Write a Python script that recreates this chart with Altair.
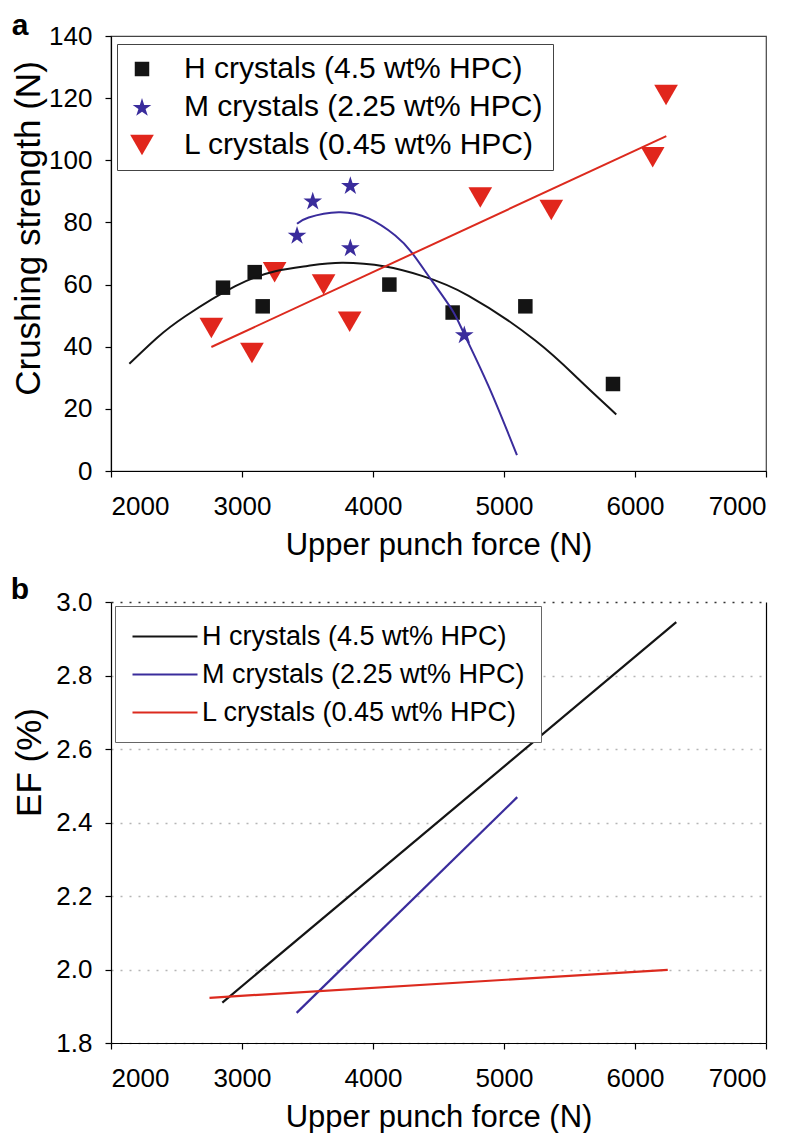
import altair as alt
import pandas as pd

series = ["H crystals (4.5 wt% HPC)", "M crystals (2.25 wt% HPC)", "L crystals (0.45 wt% HPC)"]
point_colors = ["#141414", "#3a2c9c", "#e1261c"]
line_colors = ["#141414", "#3a2c9c", "#dc2a1e"]
star_path = ("M0,-0.905L0.2245,-0.214L0.9511,-0.214L0.3633,0.213L0.5878,0.904L0,0.477"
             "L-0.5878,0.904L-0.3633,0.213L-0.9511,-0.214L-0.2245,-0.214Z")
shapes = ["square", star_path, "triangle-down"]
sizes = [210, 560, 240]

# ---- panel a: measured points ----
force_H = [2855, 3097, 3158, 4125, 4608, 5163, 5832]
cs_H = [59, 64, 53, 60, 51, 53, 28]
force_M = [3420, 3540, 3827, 3827, 4697]
cs_M = [76, 87, 92, 72, 44]
force_L = [2766, 3076, 3249, 3623, 3822, 4819, 5361, 6135, 6237]
cs_L = [46, 38, 64, 60, 48, 88, 84, 101, 121]

# ---- panel a: fitted curves ----
fitH_x = [2140, 2350, 2567, 2949, 3254, 3500, 3763, 4094, 4374, 4730, 5239, 5570, 5857]
fitH_y = [34.5, 42.8, 49.8, 59.5, 64.3, 66.0, 67.0, 65.8, 62.8, 56.4, 42.0, 29.5, 18.2]
fitM_x = [3420, 3509, 3738, 3967, 4170, 4298, 4450, 4603, 4697, 4882, 5099]
fitM_y = [79.6, 81.6, 83.3, 81.3, 75.8, 70.2, 61.2, 51.9, 44.0, 27.3, 5.1]
fitL_x = [2766, 6239]
fitL_y = [39.9, 107.8]

# ---- panel b: EF lines ----
efH_x = [2850, 6315]
efH_y = [1.910, 2.945]
efM_x = [3417, 5101]
efM_y = [1.882, 2.469]
efL_x = [2752, 6250]
efL_y = [1.923, 1.999]

x_ticks = [2000, 3000, 4000, 5000, 6000, 7000]
ya_ticks = [0, 20, 40, 60, 80, 100, 120, 140]
yb_ticks = [1.8, 2.0, 2.2, 2.4, 2.6, 2.8, 3.0]


def frame(xs, ys, name, xcol, ycol):
    return pd.DataFrame({xcol: xs, ycol: ys, "series": [name] * len(xs)})


pts_a = pd.concat([
    frame(force_H, cs_H, series[0], "force", "cs"),
    frame(force_M, cs_M, series[1], "force", "cs"),
    frame(force_L, cs_L, series[2], "force", "cs"),
])
fit_frames = [
    frame(fitH_x, fitH_y, series[0], "force", "cs"),
    frame(fitM_x, fitM_y, series[1], "force", "cs"),
    frame(fitL_x, fitL_y, series[2], "force", "cs"),
]
lines_b = pd.concat([
    frame(efH_x, efH_y, series[0], "force", "ef"),
    frame(efM_x, efM_y, series[1], "force", "ef"),
    frame(efL_x, efL_y, series[2], "force", "ef"),
])

W = 655

x_a = alt.X("force:Q", scale=alt.Scale(domain=[2000, 7000], nice=False, zero=False),
            axis=alt.Axis(values=x_ticks, format="d", title="Upper punch force (N)"))
y_a = alt.Y("cs:Q", scale=alt.Scale(domain=[0, 140], nice=False),
            axis=alt.Axis(values=ya_ticks, title="Crushing strength (N)", titlePadding=2,
                          labelPadding=13, titleFontSize=35, titleY=192))

legend_a = alt.Legend(title=None, orient="none", legendX=6, legendY=8, direction="vertical",
                      strokeColor="#444444", fillColor="white", padding=10, labelFontSize=30,
                      rowPadding=8, labelOffset=27, labelLimit=600, symbolStrokeWidth=0)

fit_layers = [
    alt.Chart(df).mark_line(strokeWidth=2, interpolate="natural", color=c).encode(x=x_a, y=y_a)
    for df, c in zip(fit_frames, line_colors)
]
points = alt.Chart(pts_a).mark_point(filled=True, opacity=1, strokeWidth=0).encode(
    x=x_a, y=y_a,
    color=alt.Color("series:N", scale=alt.Scale(domain=series, range=point_colors), legend=legend_a),
    shape=alt.Shape("series:N", scale=alt.Scale(domain=series, range=shapes), legend=legend_a),
    size=alt.Size("series:N", scale=alt.Scale(domain=series, range=sizes), legend=legend_a),
)
label_a = alt.Chart(pd.DataFrame({"t": ["a"]})).mark_text(
    fontSize=30, fontWeight="bold", align="center", baseline="alphabetic", color="black"
).encode(text="t:N", x=alt.value(-91), y=alt.value(-1))

panel_a = alt.layer(points, *fit_layers, label_a).properties(
    width=W, height=435, view=alt.ViewBackground(stroke="#444444", strokeWidth=1.2))

# ---- panel b ----
x_b = alt.X("force:Q", scale=alt.Scale(domain=[2000, 7000], nice=False, zero=False),
            axis=alt.Axis(values=x_ticks, format="d", title="Upper punch force (N)"))
y_b = alt.Y("ef:Q", scale=alt.Scale(domain=[1.8, 3.0], nice=False, zero=False),
            axis=alt.Axis(values=yb_ticks, format=".1f", title="EF (%)", titlePadding=8,
                          labelPadding=13, titleFontSize=35, titleY=160, grid=True,
                          gridDash=[2, 7], gridWidth=1.5,
                          gridColor={"condition": {"test": "datum.value >= 2.99", "value": "#333333"},
                                     "value": "#b5b5b5"}))
y_b_right = alt.Y("ef:Q", scale=alt.Scale(domain=[1.8, 3.0], nice=False, zero=False),
                  axis=alt.Axis(orient="right", labels=False, ticks=False, grid=False,
                                title=None, domainColor="black"))

legend_b = alt.Legend(title=None, orient="none", legendX=4, legendY=4, direction="vertical",
                      strokeColor="#666666", fillColor="white", padding=16, labelFontSize=27,
                      rowPadding=10, labelOffset=42, labelLimit=600, symbolType="M-1,0L4,0",
                      symbolSize=676, symbolStrokeWidth=2.2)

lines = alt.Chart(lines_b).mark_line(strokeWidth=2.2).encode(
    x=x_b, y=y_b,
    color=alt.Color("series:N", scale=alt.Scale(domain=series, range=line_colors), legend=legend_b),
)
right_border = alt.Chart(lines_b).mark_line(opacity=0).encode(
    x=x_b, y=y_b_right, detail="series:N",
)
label_b = alt.Chart(pd.DataFrame({"t": ["b"]})).mark_text(
    fontSize=30, fontWeight="bold", align="center", baseline="alphabetic", color="black"
).encode(text="t:N", x=alt.value(-91), y=alt.value(-3))

panel_b = alt.layer(lines, right_border, label_b).resolve_axis(y="independent").properties(
    width=W, height=441, view=alt.ViewBackground(stroke="transparent"))

chart = alt.vconcat(panel_a, panel_b, spacing=13).resolve_scale(
    color="independent", shape="independent", size="independent"
).resolve_legend(
    color="independent", shape="independent", size="independent"
).properties(
    padding={"left": 2, "top": 2, "right": 5, "bottom": 0}
).configure(font="Liberation Sans").configure_axis(
    labelFontSize=26, titleFontSize=31, labelColor="black", titleColor="black",
    titleFontWeight="normal", domainColor="black", tickColor="black", tickSize=6,
    domainWidth=1.2, tickWidth=1.2, labelFont="Liberation Sans", titleFont="Liberation Sans",
    grid=False,
).configure_axisX(labelPadding=16, titlePadding=11).configure_legend(
    labelFont="Liberation Sans", labelColor="black"
)

chart.save("out.html", embed_options={"renderer": "svg", "actions": False})
